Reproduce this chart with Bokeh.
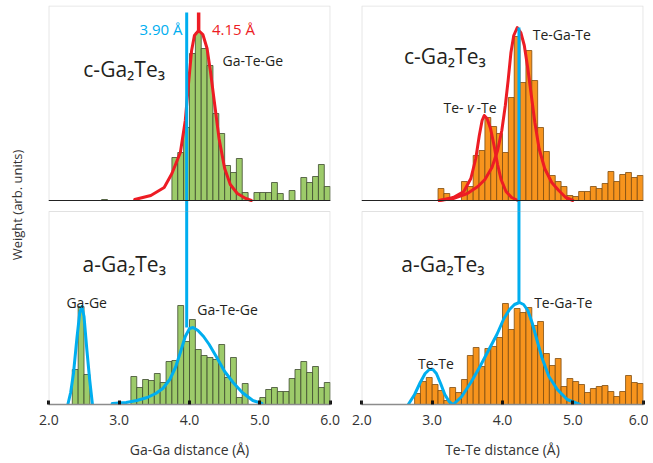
from bokeh.plotting import figure
from bokeh.models import Range1d, FixedTicker, BoxAnnotation, Span, Label, ColumnDataSource
from bokeh.layouts import row
from bokeh.embed import file_html
from bokeh.resources import INLINE

# ---------------- data ----------------
X_MIN, X_MAX = 2.0, 6.0
BIN_W = 1.0 / 12.0          # histogram bin width (Å)

# histogram weights, bin k spans [2 + k/12, 2 + (k+1)/12]
gaga_cryst = [0, 0, 0, 0, 0, 0, 0, 0, 0, 1, 0, 0, 0, 0, 0, 0,
              0, 0, 0, 0, 0, 43, 48, 73, 147, 168, 152, 135, 87, 67, 35, 28,
              42, 8, 0, 8, 8, 8, 18, 7, 0, 10, 0, 23, 18, 24, 36, 14]
gaga_amor = [0, 0, 0, 0, 35, 98, 30, 0, 0, 0, 0, 0, 0, 0, 28, 17,
             25, 24, 31, 22, 43, 44, 99, 63, 85, 55, 49, 47, 45, 60, 27, 47,
             7, 21, 0, 0, 7, 15, 17, 13, 13, 26, 35, 43, 32, 38, 17, 22]
tete_cryst = [0, 0, 0, 0, 0, 0, 0, 0, 0, 0, 0, 0, 0, 12, 7, 0,
              0, 19, 14, 45, 50, 83, 74, 67, 48, 103, 164, 118, 150, 120, 73, 49,
              25, 19, 14, 5, 4, 9, 9, 14, 12, 17, 29, 19, 26, 28, 23, 25]
tete_amor = [0, 0, 0, 0, 0, 0, 0, 0, 0, 11, 23, 27, 20, 14, 4, 17,
             12, 25, 49, 57, 38, 56, 58, 67, 101, 75, 96, 92, 97, 79, 83, 51,
             39, 46, 18, 26, 23, 20, 12, 16, 18, 19, 13, 8, 13, 29, 22, 21]

# fitted peaks
c_gatege_x = [3.22, 3.45, 3.64, 3.75, 3.87, 3.94, 3.99, 4.03, 4.07, 4.13, 4.19, 4.25,
              4.30, 4.36, 4.42, 4.50, 4.58, 4.68, 4.80, 4.88]
c_gatege_y = [1, 5, 13, 27, 48, 80, 120, 150, 165, 170, 166, 152,
              128, 95, 62, 32, 16, 7, 2, 0]
c_tevte_x = [3.10, 3.30, 3.45, 3.55, 3.62, 3.67, 3.71, 3.74, 3.78, 3.83, 3.88, 3.93,
             3.98, 4.05, 4.13, 4.22]
c_tevte_y = [0, 3, 9, 22, 42, 65, 80, 85, 82, 72, 55, 36, 21, 9, 3, 0]
c_tegate_x = [3.10, 3.30, 3.50, 3.65, 3.75, 3.85, 3.93, 3.99, 4.04, 4.08, 4.12, 4.16,
              4.21, 4.26, 4.31, 4.36, 4.41, 4.46, 4.52, 4.60, 4.70, 4.80, 4.90, 5.00]
c_tegate_y = [0, 2, 7, 14, 21, 33, 50, 70, 95, 120, 148, 165,
              173, 168, 155, 132, 105, 78, 52, 32, 18, 10, 3, 0]
a_gage_x = [2.27, 2.31, 2.35, 2.40, 2.44, 2.47, 2.50, 2.54, 2.58, 2.62]
a_gage_y = [0, 12, 31, 67, 92, 98, 88, 55, 25, 0]
a_gatege_x = [2.90, 3.10, 3.25, 3.40, 3.52, 3.62, 3.72, 3.80, 3.87, 3.94, 4.00, 4.05,
              4.12, 4.20, 4.28, 4.38, 4.50, 4.62, 4.75, 4.90, 5.03]
a_gatege_y = [1, 2, 4, 7, 11, 16, 25, 37, 52, 68, 76, 77, 74, 68, 60, 48, 33, 22, 12, 4, 1]
a_tete_x = [2.66, 2.75, 2.83, 2.90, 2.96, 3.01, 3.06, 3.12, 3.18, 3.24, 3.29]
a_tete_y = [0, 10, 22, 31, 35, 35, 31, 21, 10, 3, 0]
a_tegate_x = [3.30, 3.42, 3.55, 3.68, 3.80, 3.92, 4.02, 4.10, 4.17, 4.24, 4.30, 4.36,
              4.42, 4.48, 4.56, 4.66, 4.78, 4.92, 5.10]
a_tegate_y = [0, 8, 22, 38, 54, 70, 86, 95, 100, 102, 100, 94, 82, 67, 47, 28, 15, 5, 0]

# reference distance markers (positions as drawn)
gaga_blue_x = 3.96
gaga_red_x = 4.13
tete_blue_x = 4.234

x_ticks = [2, 3, 4, 5, 6]
x_tick_labels = ["2.0", "3.0", "4.0", "5.0", "6.0"]

# ---------------- style / layout ----------------
FONT = "Open Sans"
GREEN, GREEN_LINE = "#9dcb6a", "#3e4a2e"
ORANGE, ORANGE_LINE = "#f7941d", "#7f4d10"
RED, BLUE = "#ed1c24", "#00aeef"
TXT = "#231f20"

FRAME_H = 399       # px
TOP_BASE = 204      # top panel baseline height above bottom baseline (px units)
BOT_H = 193
TOP_H = 194.5
MARK_TOP = 188      # top end of marker lines, in top panel units


def make_fig(border_left, border_right, xlabel, ylabel):
    p = figure(frame_width=282, frame_height=FRAME_H,
               x_range=Range1d(X_MIN - 0.005, X_MAX + 0.005),
               y_range=Range1d(0, FRAME_H),
               output_backend="svg", toolbar_location=None,
               min_border_left=border_left, min_border_right=border_right,
               min_border_top=5, min_border_bottom=55,
               y_axis_location="left" if ylabel else None,
               background_fill_color="white", border_fill_color="white")
    p.extra_y_ranges = {"top": Range1d(-TOP_BASE, FRAME_H - TOP_BASE)}
    p.outline_line_color = None
    p.xgrid.visible = False
    p.ygrid.visible = False
    ax = p.xaxis[0]
    ax.ticker = FixedTicker(ticks=x_ticks)
    ax.major_label_overrides = {t: l for t, l in zip(x_ticks, x_tick_labels)}
    ax.axis_line_color = "#8a8a8a"
    ax.axis_line_width = 1.5
    ax.major_tick_in = 4
    ax.major_tick_out = 0
    ax.major_tick_line_width = 3
    ax.major_tick_line_color = "#111111"
    ax.minor_tick_line_color = None
    ax.major_label_standoff = 10
    ax.major_label_text_font = FONT
    ax.major_label_text_font_size = "14px"
    ax.major_label_text_color = "#333333"
    ax.axis_label = xlabel
    ax.axis_label_text_font = FONT
    ax.axis_label_text_font_size = "14px"
    ax.axis_label_text_font_style = "normal"
    ax.axis_label_text_color = "#333333"
    ax.axis_label_standoff = 12
    if ylabel:
        ay = p.yaxis[0]
        ay.ticker = FixedTicker(ticks=[])
        ay.axis_line_color = None
        ay.major_tick_line_color = None
        ay.minor_tick_line_color = None
        ay.major_label_text_font_size = "0px"
        ay.major_label_standoff = 0
        ay.axis_label = ylabel
        ay.axis_label_text_font = FONT
        ay.axis_label_text_font_size = "13px"
        ay.axis_label_text_font_style = "normal"
        ay.axis_label_text_color = "#333333"
        ay.axis_label_standoff = 23
    # panel frames
    p.add_layout(BoxAnnotation(left=X_MIN, right=X_MAX, bottom=0, top=BOT_H,
                               fill_alpha=0, line_color="#9a9a9a", line_width=1.2))
    p.add_layout(BoxAnnotation(left=X_MIN, right=X_MAX, bottom=0, top=TOP_H,
                               y_range_name="top",
                               fill_alpha=0, line_color="#9a9a9a", line_width=1.2))
    return p


def add_hist(p, weights, fill, line, rng):
    left = [X_MIN + k * BIN_W for k, w in enumerate(weights) if w > 0]
    right = [X_MIN + (k + 1) * BIN_W for k, w in enumerate(weights) if w > 0]
    top = [w for w in weights if w > 0]
    src = ColumnDataSource(dict(left=left, right=right, top=top))
    kw = {} if rng == "default" else {"y_range_name": rng}
    p.quad(left="left", right="right", bottom=0, top="top", source=src,
           fill_color=fill, line_color=line, line_width=0.8, **kw)


def add_curve(p, xs, ys, color, rng):
    kw = {} if rng == "default" else {"y_range_name": rng}
    p.line(xs, ys, line_color=color, line_width=3, line_join="round", line_cap="round", **kw)


def add_text(p, x, y, text, size="14px", color=TXT, align="left", style="normal"):
    p.add_layout(Label(x=x, y=y, text=text, text_font=FONT, text_font_size=size,
                       text_color=color, text_align=align, text_baseline="alphabetic",
                       text_font_style=style))


# ---------------- left: Ga-Ga ----------------
p1 = make_fig(48, 12, "Ga-Ga distance (Å)", "Weight (arb. units)")
add_hist(p1, gaga_amor, GREEN, GREEN_LINE, "default")
add_hist(p1, gaga_cryst, GREEN, GREEN_LINE, "top")
p1.add_layout(Span(location=0, dimension="width", y_range_name="top",
                   line_color="#222222", line_width=1.2))
add_curve(p1, c_gatege_x, c_gatege_y, RED, "top")
add_curve(p1, a_gage_x, a_gage_y, BLUE, "default")
add_curve(p1, a_gatege_x, a_gatege_y, BLUE, "default")
p1.line([gaga_blue_x, gaga_blue_x], [max(a_gatege_y), TOP_BASE + MARK_TOP],
        line_color=BLUE, line_width=3)
p1.line([gaga_red_x, gaga_red_x], [max(c_gatege_y), MARK_TOP], y_range_name="top",
        line_color=RED, line_width=3.5)
add_text(p1, 3.90, TOP_BASE + 172, "3.90 Å", size="15px", color=BLUE, align="right")
add_text(p1, 4.32, TOP_BASE + 172, "4.15 Å", size="15px", color=RED)
add_text(p1, 4.47, TOP_BASE + 140, "Ga-Te-Ge")
add_text(p1, 2.49, TOP_BASE + 132, "c-Ga₂Te₃", size="21px")
add_text(p1, 2.48, 141, "a-Ga₂Te₃", size="21px")
add_text(p1, 2.25, 102, "Ga-Ge")
add_text(p1, 4.11, 95, "Ga-Te-Ge")

# ---------------- right: Te-Te ----------------
p2 = make_fig(19, 5, "Te-Te distance (Å)", None)
add_hist(p2, tete_amor, ORANGE, ORANGE_LINE, "default")
add_hist(p2, tete_cryst, ORANGE, ORANGE_LINE, "top")
p2.add_layout(Span(location=0, dimension="width", y_range_name="top",
                   line_color="#222222", line_width=1.2))
add_curve(p2, c_tevte_x, c_tevte_y, RED, "top")
add_curve(p2, c_tegate_x, c_tegate_y, RED, "top")
add_curve(p2, a_tete_x, a_tete_y, BLUE, "default")
add_curve(p2, a_tegate_x, a_tegate_y, BLUE, "default")
p2.line([tete_blue_x, tete_blue_x], [max(a_tegate_y), TOP_BASE + max(c_tegate_y)],
        line_color=BLUE, line_width=3)
add_text(p2, 2.60, TOP_BASE + 145, "c-Ga₂Te₃", size="21px")
add_text(p2, 4.43, TOP_BASE + 166, "Te-Ga-Te")
add_text(p2, 3.16, TOP_BASE + 93, "Te-")
add_text(p2, 3.50, TOP_BASE + 93, "v", style="italic")
add_text(p2, 3.63, TOP_BASE + 93, "-Te")
add_text(p2, 2.56, 141, "a-Ga₂Te₃", size="21px")
add_text(p2, 4.45, 102, "Te-Ga-Te")
add_text(p2, 2.80, 41, "Te-Te")

layout = row(p1, p2)
open("out.html", "w").write(file_html(layout, INLINE))
